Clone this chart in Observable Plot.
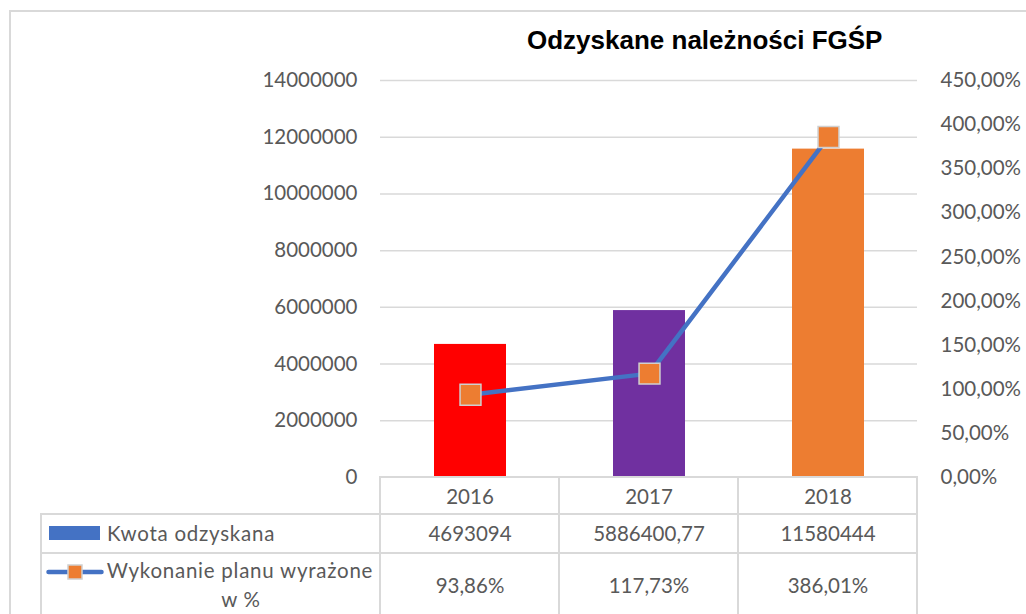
<!DOCTYPE html>
<html>
<head>
<meta charset="utf-8">
<script src="https://cdn.jsdelivr.net/npm/d3@7"></script>
<script src="https://cdn.jsdelivr.net/npm/@observablehq/plot@0.6"></script>
<style>
  body { margin: 0; background: #ffffff; }
  #wrap { position: relative; width: 1026px; height: 614px; overflow: hidden; font-family: Lato, "Open Sans", sans-serif; color: #595959; }
  #wrap svg.plot { position: absolute; left: 0; top: 0; }
  .ln { position: absolute; background: #d9d9d9; }
  .txt { position: absolute; white-space: nowrap; font-size: 20.5px; line-height: 30px; }
  .lbl { letter-spacing: 0.75px; }
  #title { position: absolute; left: 527px; top: 27px; font-family: "Liberation Sans", Arial, sans-serif; font-weight: bold; font-size: 26px; line-height: 26px; color: #000; white-space: nowrap; }
</style>
</head>
<body>
<div id="wrap"></div>
<script>
// ---- data ----
const years = ["2016", "2017", "2018"];
const amounts = [4693094, 5886400.77, 11580444];
const pct = [0.9386, 1.1773, 3.8601];
const barColors = ["#FF0000", "#7030A0", "#ED7D31"];
const leftTicks = [0, 2000000, 4000000, 6000000, 8000000, 10000000, 12000000, 14000000];
const rightTicks = [0, 0.5, 1, 1.5, 2, 2.5, 3, 3.5, 4, 4.5];
const titleText = "Odzyskane należności FGŚP";
const seriesNames = ["Kwota odzyskana", "Wykonanie planu wyrażone", "w %"];

const rows = years.map((y, i) => ({year: y, amount: amounts[i], pct: pct[i]}));
const fmtPct = d => (d * 100).toFixed(2).replace(".", ",") + "%";
const fmtAmt = d => String(d).replace(".", ",");

const W = 1026, H = 500;
const dims = {width: W, height: H, marginTop: 80, marginBottom: 23, marginLeft: 380, marginRight: 109};
const axisFont = {fontSize: 20.5, fill: "#595959", fontFamily: "Lato, 'Open Sans', sans-serif"};

const wrap = document.getElementById("wrap");

// outer frame
function line(x, y, w, h) {
  const d = document.createElement("div");
  d.className = "ln";
  Object.assign(d.style, {left: x + "px", top: y + "px", width: w + "px", height: h + "px"});
  wrap.appendChild(d);
}
line(9, 10, 1017, 2);
line(9, 10, 2, 604);

// bars + left axis
const p1 = Plot.plot({
  ...dims,
  style: {background: "transparent", overflow: "visible"},
  x: {domain: years, paddingInner: 0.6, paddingOuter: 0.3, axis: null},
  y: {domain: [0, 14000000], axis: null, label: null},
  color: {domain: years, range: barColors},
  marks: [
    Plot.gridY(leftTicks.filter(d => d > 0), {stroke: "#d9d9d9", strokeOpacity: 1, strokeWidth: 1.5}),
    Plot.barY(rows, {x: "year", y: "amount", fill: "year"}),
    Plot.axisY(leftTicks, {anchor: "left", tickSize: 0, tickPadding: 23, tickFormat: d => String(d), ...axisFont})
  ]
});
p1.classList.add("plot");
wrap.appendChild(p1);

// line + right axis
const p2 = Plot.plot({
  ...dims,
  style: {background: "transparent", overflow: "visible"},
  x: {domain: years, type: "point", padding: 0.5, axis: null},
  y: {domain: [0, 4.5], axis: null, label: null},
  marks: [
    Plot.lineY(rows, {x: "year", y: "pct", stroke: "#4472C4", strokeWidth: 4.5}),
    Plot.dot(rows, {x: "year", y: "pct", symbol: "square", r: 11.8, fill: "#ED7D31", stroke: "#D0D0D0", strokeWidth: 1.5}),
    Plot.axisY(rightTicks, {anchor: "right", tickSize: 0, tickPadding: 23, tickFormat: fmtPct, ...axisFont})
  ]
});
p2.classList.add("plot");
wrap.appendChild(p2);

// title
const t = document.createElement("div");
t.id = "title";
t.textContent = titleText;
wrap.appendChild(t);

// data table
const xs = p1.scale("x");
const r0 = xs.range[0], r1 = xs.range[1];
const step = (r1 - r0) / years.length;
const center = y => xs.apply(y) + xs.bandwidth / 2;
const yBase = 477, yRow1 = 514, yRow2 = 553, leftCol = 41;

line(r0, yBase - 1, r1 - r0 + 1, 2);
line(leftCol, yRow1 - 1, r1 - leftCol + 1, 2);
line(leftCol, yRow2 - 1, r1 - leftCol + 1, 2);
line(leftCol - 1, yRow1 - 1, 2, 614 - yRow1 + 1);
for (let i = 0; i <= years.length; i++) {
  line(r0 + i * step - 1, yBase - 1, 2, 614 - yBase + 1);
}

function text(str, cx, cy, align, cls) {
  const d = document.createElement("div");
  d.className = "txt" + (cls ? " " + cls : "");
  d.textContent = str;
  if (align === "center") {
    Object.assign(d.style, {left: (cx - 150) + "px", width: "300px", textAlign: "center", top: (cy - 15) + "px"});
  } else {
    Object.assign(d.style, {left: cx + "px", top: (cy - 15) + "px"});
  }
  wrap.appendChild(d);
  return d;
}
years.forEach((y, i) => {
  text(y, center(y), 496, "center");
  text(fmtAmt(amounts[i]), center(y), 533, "center");
  text(fmtPct(pct[i]), center(y), 585, "center");
});
text(seriesNames[0], 107, 533, null, "lbl");
text(seriesNames[1], 240, 570, "center", "lbl");
text(seriesNames[2], 241, 599, "center", "lbl");

// legend keys
const sw = document.createElement("div");
Object.assign(sw.style, {position: "absolute", left: "49px", top: "526px", width: "51px", height: "14px", background: "#4472C4"});
wrap.appendChild(sw);
const ns = "http://www.w3.org/2000/svg";
const key = document.createElementNS(ns, "svg");
key.setAttribute("width", "70"); key.setAttribute("height", "24");
Object.assign(key.style, {position: "absolute", left: "40px", top: "560px"});
key.innerHTML = '<line x1="8.5" y1="12" x2="61.5" y2="12" stroke="#4472C4" stroke-width="4.5" stroke-linecap="round"/>' +
  '<rect x="28" y="5" width="14" height="14" fill="#ED7D31" stroke="#D0D0D0" stroke-width="1.5"/>';
wrap.appendChild(key);
</script>
</body>
</html>
